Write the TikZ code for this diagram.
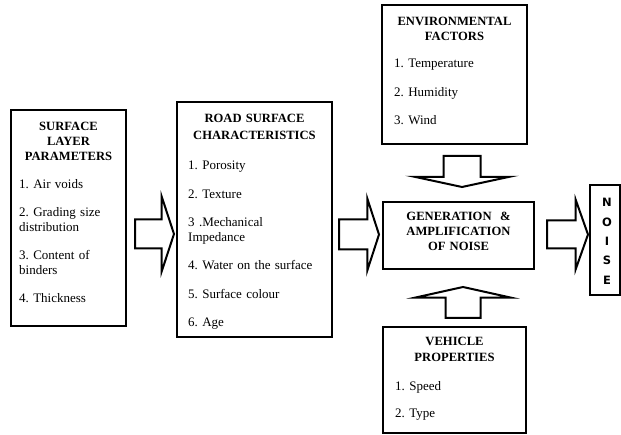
\documentclass[tikz,border=0pt]{standalone}
\usepackage{fontspec}
\setmainfont{Liberation Serif}
\newfontfamily\noisefont{DejaVu Sans}
\usepackage{tikz}
\usetikzlibrary{shapes.arrows, positioning}
\tikzstyle{frame} = [rectangle, draw=black, line width=2.8pt, inner sep=0pt]
\tikzstyle{head} = [anchor=base, text width=150pt, align=center, inner sep=0pt, font=\bfseries\fontsize{12.6}{15}\selectfont]
\tikzstyle{items} = [anchor=base west, text width=150pt, align=left, inner sep=0pt, font=\frenchspacing\fontsize{13}{15}\selectfont]
\tikzstyle{blockarrow} = [single arrow, draw=black, line width=2pt, inner xsep=0pt, single arrow head indent=0pt, anchor=tail]

\begin{document}
\frenchspacing
\begin{tikzpicture}[x=1pt, y=-1pt]
\useasboundingbox (0,0) rectangle (621,435);

% boxes
\node (slp) [frame, minimum width=115pt, minimum height=216pt] at (68.5,218) {};
\node (rsc) [frame, minimum width=155pt, minimum height=235pt] at (254.5,219.5) {};
\node (env) [frame, minimum width=145pt, minimum height=139pt] at (454.5,74.5) {};
\node (gen) [frame, minimum width=151pt, minimum height=67pt] at (458.5,235.5) {};
\node (noise) [frame, minimum width=30pt, minimum height=110pt] at (605,240) {};
\node (veh) [frame, minimum width=143pt, minimum height=106pt] at (454.5,380) {};

% texts
\node (slphead) [head] at (68.5,130.7) {SURFACE\\LAYER\\PARAMETERS};
\node (slplist) [items] at (19,189) {1. Air voids\\[13pt] 2. Grading size\\ distribution\\[13pt] 3. Content of\\ binders\\[13pt] 4. Thickness};
\node (rschead) [head, font=\bfseries\fontsize{12.6}{17}\selectfont] at (254.5,123) {ROAD SURFACE\\CHARACTERISTICS};
\node (rsclist) [items] at (188,170) {1. Porosity\\[13.3pt] 2. Texture\\[13.3pt] 3 .Mechanical\\ Impedance\\[13.3pt] 4. Water on the surface\\[13.3pt] 5. Surface colour\\[13.3pt] 6. Age};
\node (envhead) [head] at (454.5,26) {ENVIRONMENTAL\\FACTORS};
\node (envlist) [items] at (394,68) {1. Temperature\\[13.5pt] 2. Humidity\\[13.5pt] 3. Wind};
\node (vehhead) [head, font=\bfseries\fontsize{12.6}{16}\selectfont] at (454.5,346) {VEHICLE\\PROPERTIES};
\node (vehlist) [items] at (395,391) {1. Speed\\[12pt] 2. Type};
\node (genhead) [head] at (458.5,221) {GENERATION\ \ \&\\AMPLIFICATION\\OF NOISE};
\node (noisetxt) [anchor=base, text width=20pt, align=center, inner sep=0pt, font=\noisefont\bfseries\fontsize{11.5}{19.3}\selectfont] at (607,207) {N\\O\\I\\S\\E};

% block arrows
\node (arr1) [blockarrow, inner ysep=13.5pt, single arrow head extend=23pt, single arrow tip angle=143.6, minimum height=39pt] at (134,234) {};
\node (arr2) [blockarrow, inner ysep=14pt, single arrow head extend=21pt, single arrow tip angle=144, minimum height=40pt] at (338,234.5) {};
\node (arr3) [blockarrow, inner ysep=13pt, single arrow head extend=21pt, single arrow tip angle=141, minimum height=41pt] at (546,234.5) {};
\node (arrdown) [blockarrow, rotate=-90, inner ysep=17.5pt, single arrow head extend=29pt, single arrow tip angle=155.7, minimum height=31pt] at (462,155) {};
\node (arrup) [blockarrow, rotate=90, inner ysep=16.5pt, single arrow head extend=30pt, single arrow tip angle=155, minimum height=31pt] at (463,319) {};

\end{tikzpicture}
\end{document}
